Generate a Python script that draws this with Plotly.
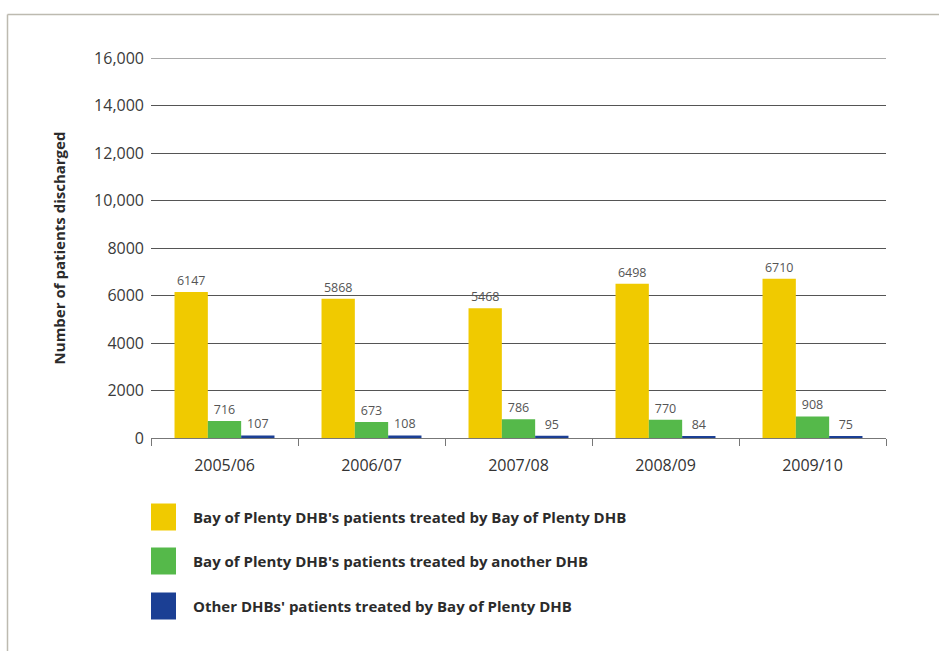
import plotly.graph_objects as go

years = ["2005/06", "2006/07", "2007/08", "2008/09", "2009/10"]
series_names = [
    "Bay of Plenty DHB's patients treated by Bay of Plenty DHB",
    "Bay of Plenty DHB's patients treated by another DHB",
    "Other DHBs' patients treated by Bay of Plenty DHB",
]
bop_by_bop = [6147, 5868, 5468, 6498, 6710]
bop_by_other = [716, 673, 786, 770, 908]
other_by_bop = [107, 108, 95, 84, 75]
colors = ["#F0CA00", "#55B94A", "#1B3F94"]

ytick_vals = [0, 2000, 4000, 6000, 8000, 10000, 12000, 14000, 16000]
ytick_text = ["0", "2000", "4000", "6000", "8000", "10,000", "12,000", "14,000", "16,000"]

W, H = 939, 651
L, R, T, B = 151, 53, 58, 213
pw, ph = W - L - R, H - T - B

def px(x):
    return (x - L) / pw

def py(y):
    return (H - B - y) / ph

FONT = "Open Sans"
fig = go.Figure()
for vals, name, col in zip([bop_by_bop, bop_by_other, other_by_bop], series_names, colors):
    fig.add_trace(go.Bar(
        x=years, y=vals, name=name, marker=dict(color=col, line=dict(width=0)),
        text=[str(v) for v in vals], textposition="outside",
        textfont=dict(family=FONT, size=12.5, color="#555555"),
        cliponaxis=False, showlegend=False,
    ))

shapes = []
annotations = []
# outer frame (top and left)
shapes.append(dict(type="line", xref="paper", yref="paper", x0=px(7.5), x1=px(960), y0=py(14.5), y1=py(14.5),
                   line=dict(color="#BDBAB0", width=1.5)))
shapes.append(dict(type="line", xref="paper", yref="paper", x0=px(7.5), x1=px(7.5), y0=py(14.5), y1=py(680),
                   line=dict(color="#BDBAB0", width=1.5)))
# top gridline at 16,000
shapes.append(dict(type="line", xref="paper", yref="y", x0=0, x1=1, y0=16000, y1=16000,
                   line=dict(color="#555555", width=1)))

# manual legend
leg_y = [517, 561, 606]
for yy, name, col in zip(leg_y, series_names, colors):
    shapes.append(dict(type="rect", xref="paper", yref="paper", x0=px(151), x1=px(176),
                       y0=py(yy - 13.5), y1=py(yy + 13.5), fillcolor=col, line=dict(width=0)))
    annotations.append(dict(xref="paper", yref="paper", x=px(191), y=py(yy), text="<b>" + name + "</b>",
                            showarrow=False, xanchor="left", yanchor="middle",
                            font=dict(family=FONT, size=15, color="#2b2b2b")))

fig.update_layout(
    width=W, height=H,
    margin=dict(l=L, r=R, t=T, b=B, pad=0),
    paper_bgcolor="white", plot_bgcolor="white",
    barmode="group", bargap=0.32, bargroupgap=0,
    font=dict(family=FONT, color="#333333"),
    shapes=shapes, annotations=annotations,
    xaxis=dict(
        type="category", showgrid=False, showline=True, linecolor="#777777", linewidth=1,
        ticks="outside", tickson="boundaries", ticklen=7, tickcolor="#777777",
        ticklabelstandoff=13,
        tickfont=dict(family=FONT, size=16, color="#333333"), zeroline=False,
    ),
    yaxis=dict(
        range=[0, 16000], tickvals=ytick_vals, ticktext=ytick_text,
        showgrid=True, gridcolor="#555555", gridwidth=1, zeroline=False, showline=False,
        tickfont=dict(family=FONT, size=16, color="#3a3a3a"), ticks="", ticklabelstandoff=6,
        title=dict(text="<b>Number of patients discharged</b>", standoff=24,
                   font=dict(family=FONT, size=15, color="#2b2b2b")),
    ),
)

fig.write_html("out.html", config={"displayModeBar": False},
               post_script="document.body.style.margin='0';document.body.style.padding='0';")
